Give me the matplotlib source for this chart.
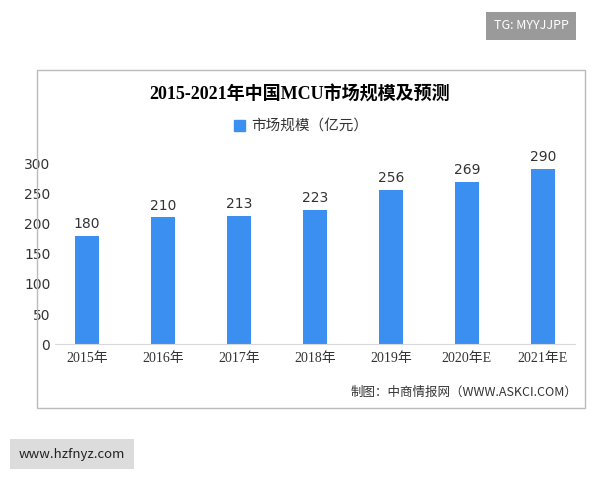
import matplotlib
matplotlib.use("Agg")
import matplotlib.pyplot as plt
from matplotlib.patches import Rectangle

plt.rcParams['font.family'] = ['Noto Sans CJK SC', 'DejaVu Sans']

years = ["2015年", "2016年", "2017年", "2018年", "2019年", "2020年E", "2021年E"]
values = [180, 210, 213, 223, 256, 269, 290]
yticks = [0, 50, 100, 150, 200, 250, 300]

fig = plt.figure(figsize=(6, 4.8), dpi=100)
fig.patch.set_facecolor("white")

fig.patches.append(Rectangle((0.062, 0.150), 0.913, 0.704, transform=fig.transFigure,
                             fill=False, edgecolor="#bbbbbb", linewidth=1))

ax = fig.add_axes([0.092, 0.283, 0.866, 0.377])
ax.bar(range(len(years)), values, width=0.31, color="#3b8ff0", label="市场规模（亿元）")
for i, v in enumerate(values):
    ax.text(i, v + 8, str(v), ha="center", va="bottom", fontsize=10, color="#333333",
            family=['DejaVu Sans'])
ax.set_ylim(0, 300)
ax.set_xlim(-0.42, len(years) - 0.58)
ax.set_yticks(yticks)
ax.set_yticklabels([str(t) for t in yticks], family=['DejaVu Sans'])
ax.set_xticks(range(len(years)))
ax.set_xticklabels(years, fontsize=10, family=['Liberation Serif', 'Noto Sans CJK SC'])
ax.tick_params(axis='y', labelsize=10, length=0, colors="#333333")
ax.tick_params(axis='x', length=0, pad=6, colors="#333333")
for s in ["top", "right", "left"]:
    ax.spines[s].set_visible(False)
ax.spines["bottom"].set_color("#d9d9d9")

fig.text(0.5, 0.803, "2015-2021年中国MCU市场规模及预测", ha="center", va="center",
         fontsize=13, fontweight="bold", family=['Liberation Serif', 'Noto Sans CJK SC'])
fig.patches.append(Rectangle((0.39, 0.727), 0.018, 0.024, transform=fig.transFigure, color="#3b8ff0"))
fig.text(0.418, 0.739, "市场规模（亿元）", ha="left", va="center", fontsize=10.5, color="#333333")
fig.text(0.963, 0.183, "制图：中商情报网（WWW.ASKCI.COM）", ha="right", va="center", fontsize=9, color="#333333")

fig.text(0.885, 0.946, "TG: MYYJJPP", ha="center", va="center", fontsize=9, color="white",
         bbox=dict(boxstyle="square,pad=0.6", facecolor="#9a9a9a", edgecolor="none"))
fig.text(0.12, 0.054, "www.hzfnyz.com", ha="center", va="center", fontsize=9.5, color="#222222",
         bbox=dict(boxstyle="square,pad=0.65", facecolor="#dcdcdc", edgecolor="none"))

fig.savefig("out.png", dpi=100)
